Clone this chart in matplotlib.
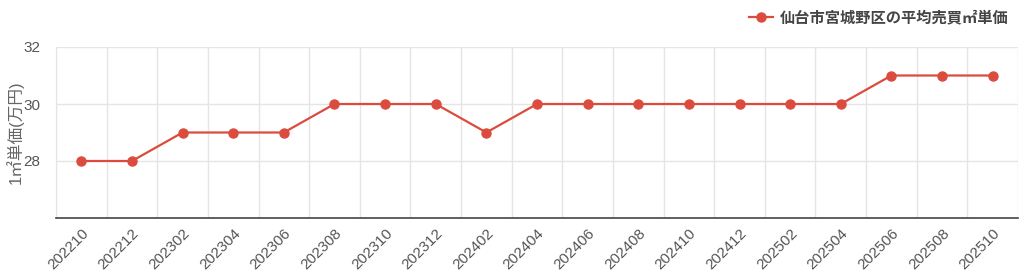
import matplotlib
matplotlib.use("Agg")
import matplotlib.pyplot as plt
from matplotlib.ticker import FixedLocator

plt.rcParams['font.family'] = ['Liberation Sans', 'Noto Sans CJK JP', 'DejaVu Sans']

categories = ["202210", "202212", "202302", "202304", "202306", "202308", "202310",
              "202312", "202402", "202404", "202406", "202408", "202410", "202412",
              "202502", "202504", "202506", "202508", "202510"]
values = [28, 28, 29, 29, 29, 30, 30, 30, 29, 30, 30, 30, 30, 30, 30, 30, 31, 31, 31]
yticks = [28, 30, 32]
series_label = "仙台市宮城野区の平均売買㎡単価"
ylabel = "1㎡単価(万円)"

color = "#db4b3e"
fig = plt.figure(figsize=(10.24, 2.78), dpi=100)
ax = fig.add_axes([56/1024, 60/278, (1018-56)/1024, (218-47)/278])

x = list(range(len(categories)))
ax.plot(x, values, color=color, lw=1.6, marker='o', ms=6.5, label=series_label, zorder=3)

ax.set_xlim(-0.5, len(categories) - 0.5)
ax.set_ylim(26, 32)
ax.set_yticks(yticks)
ax.set_xticks(x)
ax.set_xticklabels(categories, rotation=45, ha='right', rotation_mode='anchor')
ax.xaxis.set_minor_locator(FixedLocator([i - 0.5 for i in range(len(categories) + 1)]))
ax.grid(False)
ax.grid(True, which='minor', axis='x', color='#e5e5e5', lw=1)
ax.grid(True, which='major', axis='y', color='#e5e5e5', lw=1)
ax.tick_params(axis='x', which='both', length=0, labelsize=11, labelcolor='#555555', pad=6)
ax.tick_params(axis='y', length=0, labelsize=11, labelcolor='#555555', pad=11)
for s in ['top', 'right']:
    ax.spines[s].set_visible(False)
ax.spines['left'].set_color('#e5e5e5')
ax.spines['bottom'].set_color('#444444')
ax.spines['bottom'].set_linewidth(1.2)
ax.set_ylabel(ylabel, color='#666666', fontsize=12)
ax.yaxis.set_label_coords(-32/962, 0.5)

fig.legend(loc='upper right', bbox_to_anchor=(0.995, 1.0), frameon=False,
           labelcolor='#444444', handlelength=1.6, handletextpad=0.4,
           borderaxespad=0.3, prop={'weight': 'bold', 'size': 11})

fig.savefig("out.png", dpi=100)
